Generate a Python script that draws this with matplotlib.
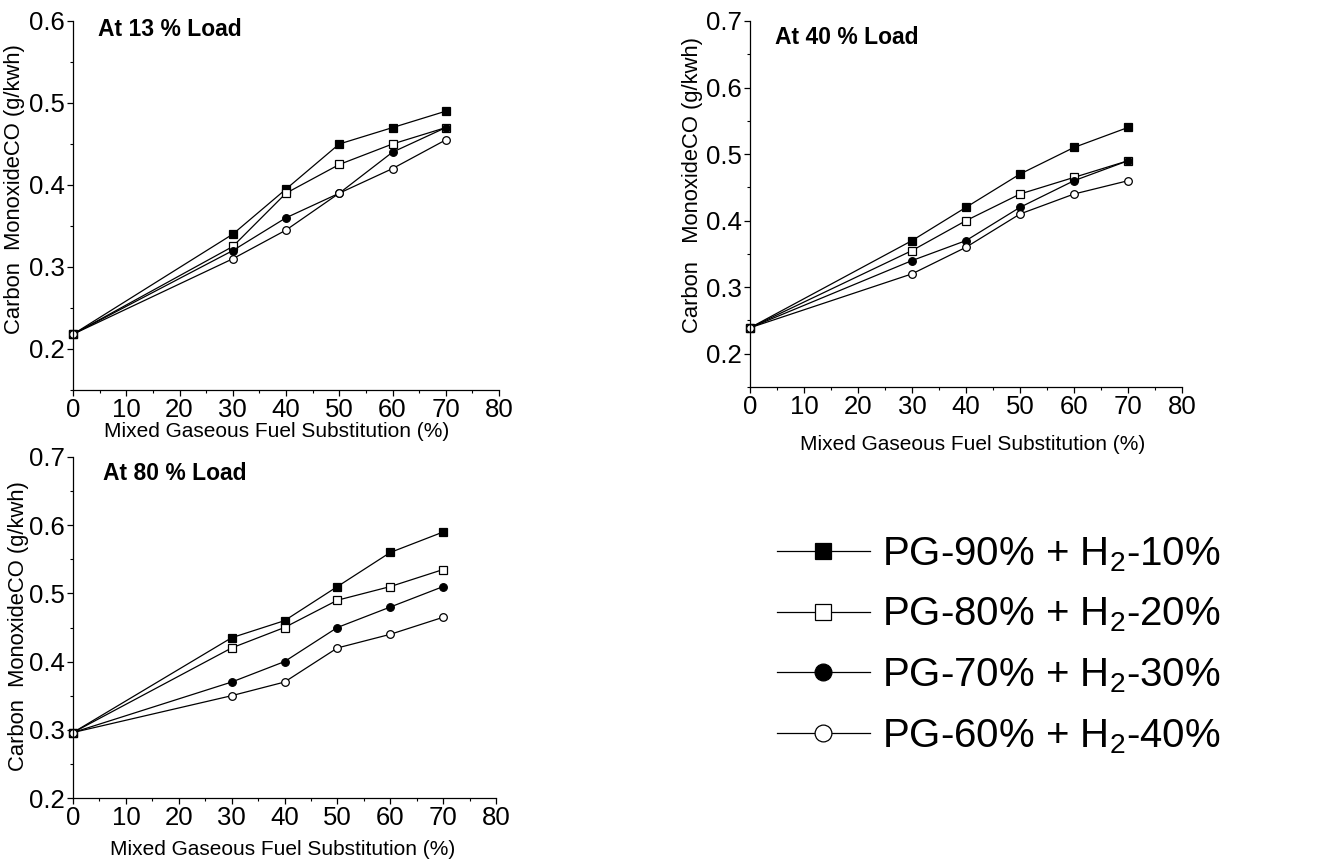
import matplotlib
matplotlib.use("Agg")
import matplotlib.pyplot as plt
from matplotlib.ticker import MultipleLocator

plt.rcParams['font.family'] = ['Liberation Sans', 'DejaVu Sans']
plt.rcParams['mathtext.default'] = 'regular'

x = [0, 30, 40, 50, 60, 70]
series_labels = ['PG-90% + H$_2$-10%', 'PG-80% + H$_2$-20%',
                 'PG-70% + H$_2$-30%', 'PG-60% + H$_2$-40%']

# At 13 % load
load13 = [
    [0.218, 0.34, 0.395, 0.45, 0.47, 0.49],
    [0.218, 0.325, 0.39, 0.425, 0.45, 0.47],
    [0.218, 0.32, 0.36, 0.39, 0.44, 0.47],
    [0.218, 0.31, 0.345, 0.39, 0.42, 0.455],
]
# At 40 % load
load40 = [
    [0.239, 0.37, 0.42, 0.47, 0.51, 0.54],
    [0.239, 0.355, 0.40, 0.44, 0.465, 0.49],
    [0.239, 0.34, 0.37, 0.42, 0.46, 0.49],
    [0.239, 0.32, 0.36, 0.41, 0.44, 0.46],
]
# At 80 % load
load80 = [
    [0.296, 0.435, 0.46, 0.51, 0.56, 0.59],
    [0.296, 0.42, 0.45, 0.49, 0.51, 0.535],
    [0.296, 0.37, 0.40, 0.45, 0.48, 0.51],
    [0.296, 0.35, 0.37, 0.42, 0.44, 0.465],
]

styles = [('s', 'black'), ('s', 'white'), ('o', 'black'), ('o', 'white')]

W, H = 1320, 863
fig = plt.figure(figsize=(W / 100, H / 100), dpi=100)


def px_axes(left, top, right, bottom):
    return fig.add_axes([left / W, 1 - bottom / H, (right - left) / W, (bottom - top) / H])


panels = [
    # data, box, ylim, title, title pos, ylabel, ylabel x/y, xlabel x/y
    (load13, (73, 21, 499, 390), (0.15, 0.6), 'At 13 % Load', (0.059, 0.978),
     'Carbon  MonoxideCO (g/kwh)', (-0.112, 0.545), (0.479, -0.087)),
    (load40, (750, 21, 1182, 387), (0.15, 0.7), 'At 40 % Load', (0.058, 0.954),
     'Carbon   MonoxideCO (g/kwh)', (-0.109, 0.552), (0.516, -0.131)),
    (load80, (73, 457, 496, 798), (0.2, 0.7), 'At 80 % Load', (0.071, 0.953),
     'Carbon  MonoxideCO (g/kwh)', (-0.104, 0.504), (0.496, -0.123)),
]

lines = []
for data, box, ylim, title, tpos, ylab, ylpos, xlpos in panels:
    ax = px_axes(*box)
    lines = []
    for ys, (m, fc) in zip(data, styles):
        ln, = ax.plot(x, ys, color='black', lw=0.9, marker=m, ms=5.5,
                      mfc=fc, mec='black', mew=0.9, clip_on=False)
        lines.append(ln)
    ax.set_xlim(0, 80)
    ax.set_ylim(*ylim)
    ax.xaxis.set_major_locator(MultipleLocator(10))
    ax.xaxis.set_minor_locator(MultipleLocator(5))
    ax.yaxis.set_major_locator(MultipleLocator(0.1))
    ax.yaxis.set_minor_locator(MultipleLocator(0.05))
    ax.spines['top'].set_visible(False)
    ax.spines['right'].set_visible(False)
    for s in ('left', 'bottom'):
        ax.spines[s].set_linewidth(0.9)
    ax.tick_params(which='major', direction='out', length=4, width=0.9,
                   labelsize=18.5, pad=2)
    ax.tick_params(which='minor', direction='out', length=2.2, width=0.8)
    ax.set_yticklabels([f'{v:.1f}' for v in ax.get_yticks()])
    ax.set_ylim(*ylim)
    ax.text(tpos[0], tpos[1], title, transform=ax.transAxes, fontsize=16.5,
            fontweight='bold', ha='left', va='center')
    ax.set_ylabel(ylab, fontsize=15.8)
    ax.yaxis.set_label_coords(*ylpos)
    ax.set_xlabel('Mixed Gaseous Fuel Substitution (%)', fontsize=15)
    ax.xaxis.set_label_coords(*xlpos)

fig.legend(lines, series_labels, loc='upper left',
           bbox_to_anchor=(777 / W, 1 - 535 / H), frameon=False,
           fontsize=29, markerscale=2.2, handlelength=2.3,
           handletextpad=0.3, labelspacing=0.55, borderpad=0,
           borderaxespad=0)

fig.savefig('out.png', dpi=100)
